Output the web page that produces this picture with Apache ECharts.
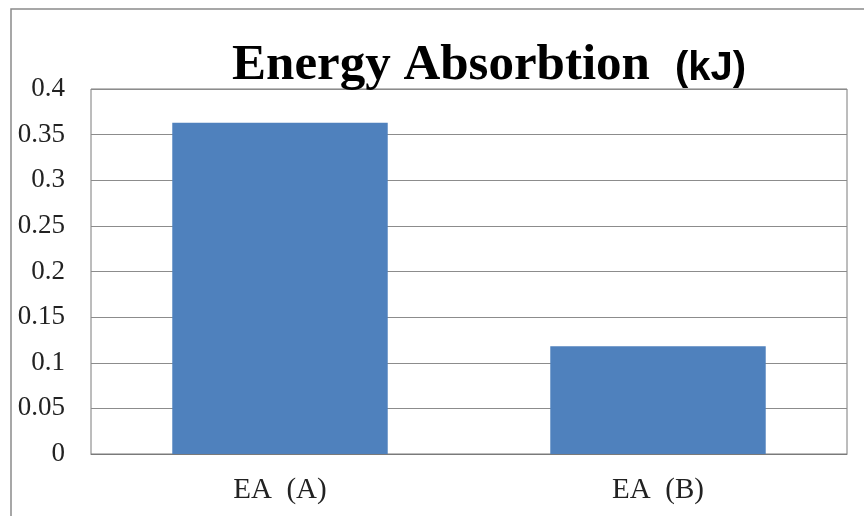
<!DOCTYPE html>
<html><head><meta charset="utf-8">
<script src="https://cdn.jsdelivr.net/npm/echarts@6/dist/echarts.min.js"></script>
<style>html,body{margin:0;padding:0;background:#fff}#c{width:864px;height:516px}</style>
</head><body><div id="c"></div>
<script>
const categories = ['EA  (A)', 'EA  (B)'];
const values = [0.363, 0.118];
const yTicks = [0, 0.05, 0.1, 0.15, 0.2, 0.25, 0.3, 0.35, 0.4];

const chart = echarts.init(document.getElementById('c'));
chart.setOption({
  animation: false,
  backgroundColor: '#fff',
  title: {
    text: '{a|Energy Absorbtion}{s| }{b|(kJ)}',
    left: 232, top: 40, padding: 0,
    textStyle: {
      rich: {
        a: { fontFamily: 'Liberation Serif, Times New Roman, serif', fontWeight: 'bold', fontSize: 51, color: '#000', verticalAlign: 'bottom' },
        s: { fontSize: 51, width: 25, verticalAlign: 'bottom' },
        b: { fontFamily: 'Liberation Sans, Arial, sans-serif', fontWeight: 'bold', fontSize: 40, color: '#000', verticalAlign: 'bottom', padding: [0,0,2,0] }
      }
    }
  },
  graphic: [{
    type: 'rect', silent: true, z: -1,
    shape: { x: 11, y: 9, width: 900, height: 600 },
    style: { fill: 'none', stroke: '#8a8a8a', lineWidth: 1.5 }
  }],
  grid: { left: 91, top: 89, width: 756, height: 365, show: true, borderColor: '#7a7a7a', borderWidth: 1, backgroundColor: 'transparent' },
  xAxis: {
    type: 'category', data: categories,
    axisLine: { show: true, lineStyle: { color: '#7a7a7a' } },
    axisTick: { show: false },
    axisLabel: { margin: 22, fontSize: 29, color: '#222', fontFamily: 'Liberation Serif, Times New Roman, serif' }
  },
  yAxis: {
    type: 'value', min: 0, max: 0.4, interval: 0.05,
    axisLine: { show: false }, axisTick: { show: false },
    splitLine: { lineStyle: { color: '#8c8c8c', width: 1 } },
    axisLabel: {
      margin: 26, fontSize: 27, color: '#222', fontFamily: 'Liberation Serif, Times New Roman, serif',
      formatter: v => { const t = yTicks.find(x => Math.abs(x - v) < 1e-9); return String(t !== undefined ? t : v); }
    }
  },
  series: [{
    type: 'bar', data: values, barWidth: '57%',
    itemStyle: { color: '#4F81BD' }
  }]
});
</script></body></html>
